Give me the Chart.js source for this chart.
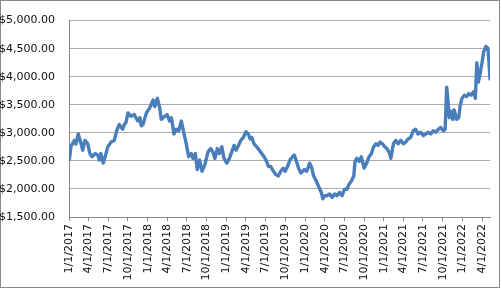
<!DOCTYPE html>
<html>
<head>
<meta charset="utf-8">
<script src="https://cdn.jsdelivr.net/npm/chart.js@4.4.1/dist/chart.umd.min.js"></script>
<style>
  html, body { margin: 0; padding: 0; background: #fff; }
  canvas { display: block; }
</style>
</head>
<body>
<canvas id="priceChart" width="502" height="289"></canvas>
<script>
// values (date, closing value)
const dates = [
  "2017-01-03","2017-01-10","2017-01-26","2017-02-02","2017-02-13","2017-02-26","2017-03-06","2017-03-16","2017-03-29",
  "2017-04-08","2017-04-18","2017-05-03","2017-05-14","2017-05-22","2017-05-29","2017-06-09","2017-06-18","2017-06-30",
  "2017-07-15","2017-07-30","2017-08-10","2017-08-22","2017-09-07","2017-09-15","2017-09-22","2017-10-02","2017-10-16",
  "2017-10-31","2017-11-16","2017-11-26","2017-12-02","2017-12-10","2017-12-26",
  "2018-01-10","2018-01-26","2018-02-03","2018-02-15","2018-02-26","2018-03-05","2018-03-21","2018-04-01","2018-04-13",
  "2018-04-21","2018-05-03","2018-05-14","2018-05-25","2018-06-06","2018-06-14","2018-06-29","2018-07-10","2018-07-22",
  "2018-07-30","2018-08-10","2018-08-19","2018-08-30","2018-09-10","2018-09-23","2018-10-08","2018-10-20","2018-10-30",
  "2018-11-09","2018-11-20","2018-11-29","2018-12-11","2018-12-21",
  "2019-01-03","2019-01-15","2019-01-26","2019-02-06","2019-02-15","2019-02-26","2019-03-09","2019-03-21","2019-04-02",
  "2019-04-13","2019-04-21","2019-04-29","2019-05-09","2019-05-22","2019-06-03","2019-06-14","2019-06-25","2019-07-07",
  "2019-07-15","2019-07-26","2019-08-07","2019-08-19","2019-08-30","2019-09-10","2019-09-22","2019-10-01","2019-10-12",
  "2019-10-23","2019-11-04","2019-11-12","2019-11-20","2019-12-02","2019-12-13","2019-12-21","2019-12-29",
  "2020-01-09","2020-01-22","2020-01-30","2020-02-10","2020-02-22","2020-03-06","2020-03-16","2020-03-24","2020-04-01",
  "2020-04-11","2020-04-24","2020-05-06","2020-05-17","2020-05-28","2020-06-10","2020-06-21","2020-07-02","2020-07-13",
  "2020-07-23","2020-08-03","2020-08-14","2020-08-20","2020-08-28","2020-09-08","2020-09-18","2020-10-01","2020-10-13",
  "2020-10-24","2020-11-04","2020-11-14","2020-11-25","2020-12-05","2020-12-14","2020-12-25",
  "2021-01-05","2021-01-14","2021-01-25","2021-02-02","2021-02-14","2021-02-25","2021-03-08","2021-03-20","2021-04-01",
  "2021-04-12","2021-04-23","2021-05-05","2021-05-17","2021-05-28","2021-06-08","2021-06-21","2021-07-03","2021-07-14",
  "2021-07-26","2021-08-06","2021-08-17","2021-08-30","2021-09-11","2021-09-22","2021-10-03","2021-10-12","2021-10-19",
  "2021-10-25","2021-10-31","2021-11-08","2021-11-16","2021-11-23","2021-12-04","2021-12-14","2021-12-20","2021-12-29",
  "2022-01-09","2022-01-20","2022-01-30","2022-02-09","2022-02-20","2022-03-01","2022-03-08","2022-03-15","2022-03-23",
  "2022-04-01","2022-04-09","2022-04-19","2022-04-28","2022-05-03","2022-05-08"
];
const prices = [
  2530,2760,2865,2800,2980,2805,2690,2865,2805,
  2630,2575,2630,2605,2515,2630,2460,2575,2750,
  2835,2865,3035,3150,3065,3150,3180,3355,3295,
  3325,3210,3270,3125,3150,3355,
  3440,3585,3470,3615,3440,3240,3295,3325,3210,
  3270,2980,3065,3035,3210,3065,2805,2575,2630,
  2545,2630,2345,2515,2315,2430,2660,2720,2660,
  2545,2720,2630,2750,2545,
  2460,2545,2660,2775,2690,2775,2865,2920,3020,
  2980,2890,2920,2805,2750,2690,2630,2575,2490,
  2400,2400,2315,2255,2230,2315,2370,2315,2400,
  2515,2575,2605,2515,2370,2285,2315,2345,
  2315,2460,2400,2230,2140,2025,1940,1825,1880,
  1880,1910,1850,1910,1880,1940,1880,1995,1995,
  2085,2140,2230,2490,2545,2490,2575,2370,2460,
  2575,2630,2750,2805,2775,2835,2805,
  2750,2720,2660,2545,2805,2865,2805,2865,2805,
  2835,2890,2920,3035,3065,2980,3010,2950,2980,
  3010,2980,3035,3010,3065,3095,3035,3065,3815,
  3585,3270,3385,3240,3410,3240,3270,3470,3615,
  3670,3645,3700,3670,3730,3615,4250,3905,4050,
  4250,4450,4540,4510,4280,3960
];
const tickLabels = [
  "1/1/2017","4/1/2017","7/1/2017","10/1/2017",
  "1/1/2018","4/1/2018","7/1/2018","10/1/2018",
  "1/1/2019","4/1/2019","7/1/2019","10/1/2019",
  "1/1/2020","4/1/2020","7/1/2020","10/1/2020",
  "1/1/2021","4/1/2021","7/1/2021","10/1/2021",
  "1/1/2022","4/1/2022"
];
const yMin = 1500, yMax = 5000, yStep = 500;

const origin = Date.UTC(2017, 0, 1);
const dayOf = (y, m, d) => Math.round((Date.UTC(y, m - 1, d) - origin) / 864e5);
const isoDay = s => { const p = s.split("-").map(Number); return dayOf(p[0], p[1], p[2]); };
const usDay = s => { const p = s.split("/").map(Number); return dayOf(p[2], p[0], p[1]); };

const tickDays = tickLabels.map(usDay);
const points = dates.map((d, i) => ({x: isoDay(d), y: prices[i]}));

const chartFrame = {
  id: "chartFrame",
  beforeDraw(chart) {
    const c = chart.ctx;
    c.save();
    c.fillStyle = "#fff";
    c.fillRect(0, 0, chart.width, chart.height);
    c.strokeStyle = "#8a8a8a";
    c.lineWidth = 1;
    c.strokeRect(0.5, 0.5, 499, 287);
    c.restore();
  }
};

Chart.defaults.font.family = "'DejaVu Sans', sans-serif";
Chart.defaults.font.size = 11;
Chart.defaults.color = "#111";

new Chart(document.getElementById("priceChart"), {
  type: "line",
  data: {
    datasets: [{
      data: points,
      borderColor: "#4a7ebb",
      borderWidth: 3.4,
      borderJoinStyle: "round",
      borderCapStyle: "round",
      pointRadius: 0,
      tension: 0,
      fill: false
    }]
  },
  options: {
    responsive: false,
    animation: false,
    layout: {padding: {left: 0, right: 12, top: 15, bottom: 0}},
    plugins: {legend: {display: false}, tooltip: {enabled: false}},
    scales: {
      x: {
        type: "linear",
        min: 0,
        max: points[points.length - 1].x,
        afterBuildTicks: scale => { scale.ticks = tickDays.map(v => ({value: v})); },
        afterFit: scale => { scale.height = 72; },
        ticks: {
          autoSkip: false,
          minRotation: 90,
          maxRotation: 90,
          padding: 3,
          callback: v => tickLabels[tickDays.indexOf(v)]
        },
        grid: {drawOnChartArea: false, drawTicks: true, tickLength: 4, color: "#8a8a8a"},
        border: {color: "#8a8a8a"}
      },
      y: {
        min: yMin,
        max: yMax,
        afterFit: scale => { scale.width = 69; },
        ticks: {
          stepSize: yStep,
          padding: 14,
          callback: v => "$" + v.toLocaleString("en-US", {minimumFractionDigits: 2, maximumFractionDigits: 2})
        },
        grid: {color: "#ababab", drawTicks: false},
        border: {color: "#8a8a8a"}
      }
    }
  },
  plugins: [chartFrame]
});
</script>
</body>
</html>
